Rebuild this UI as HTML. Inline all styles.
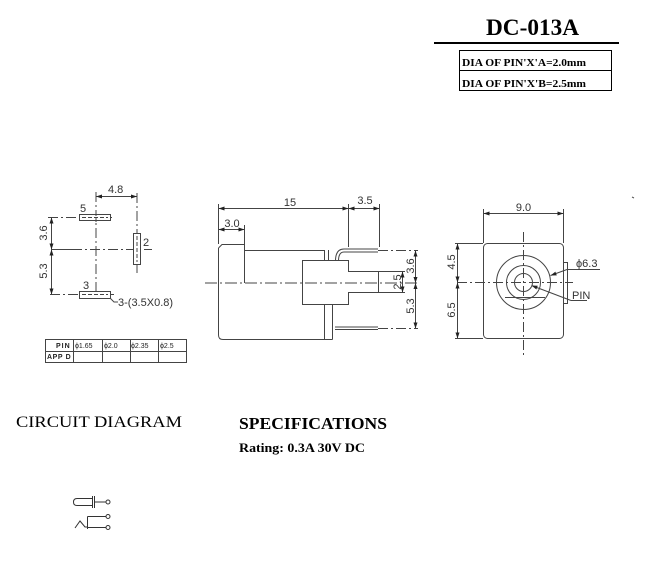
<!DOCTYPE html>
<html><head><meta charset="utf-8"><style>
html,body{margin:0;padding:0;background:#fff;}
svg{display:block;}
.d{font-family:"Liberation Sans",sans-serif;font-size:11px;fill:#333;}
.s{font-family:"Liberation Serif",serif;fill:#000;}
</style></head><body>
<svg width="649" height="578" viewBox="0 0 649 578" xmlns="http://www.w3.org/2000/svg">
<defs>
<marker id="a" viewBox="0 0 6 4" refX="6" refY="2" markerWidth="6" markerHeight="4" markerUnits="userSpaceOnUse" orient="auto-start-reverse">
<path d="M0,0 L6,2 L0,4 Z" fill="#222"/>
</marker>
</defs>

<!-- Title -->
<text class="s" x="486" y="35" font-size="23" font-weight="bold" textLength="93" lengthAdjust="spacingAndGlyphs">DC-013A</text>
<rect x="434" y="42" width="185" height="2" fill="#000"/>
<rect x="459.5" y="50.5" width="152" height="40" fill="none" stroke="#000" stroke-width="1"/>
<line x1="459" y1="70.5" x2="612" y2="70.5" stroke="#000"/>
<text class="s" x="462" y="66" font-size="11" font-weight="bold" textLength="124" lengthAdjust="spacingAndGlyphs">DIA OF PIN'X'A=2.0mm</text>
<text class="s" x="462" y="87" font-size="11" font-weight="bold" textLength="124" lengthAdjust="spacingAndGlyphs">DIA OF PIN'X'B=2.5mm</text>
<line x1="632" y1="197" x2="634" y2="198" stroke="#555"/>

<!-- LEFT: footprint -->
<g stroke="#444" stroke-width="1" fill="none">
 <line x1="96" y1="192" x2="96" y2="300" stroke-dasharray="10,3,2,3"/>
 <line x1="137" y1="193" x2="137" y2="273" stroke-dasharray="10,3,2,3"/>
 <line x1="48" y1="217.5" x2="115" y2="217.5" stroke-dasharray="10,3,2,3"/>
 <line x1="52" y1="249.5" x2="72" y2="249.5"/>
 <line x1="72" y1="249.5" x2="152" y2="249.5" stroke-dasharray="10,3,2,3"/>
 <line x1="50" y1="294.5" x2="115" y2="294.5" stroke-dasharray="10,3,2,3"/>
 <rect x="79.5" y="214.5" width="31" height="6" fill="#fff"/>
 <rect x="133.5" y="233.5" width="7" height="31" fill="#fff"/>
 <rect x="79.5" y="291.5" width="31" height="7" fill="#fff"/>
 <line x1="96" y1="212" x2="96" y2="224" stroke-dasharray="4,2"/>
 <line x1="82" y1="217.5" x2="108" y2="217.5" stroke-dasharray="4,2"/>
 <line x1="137" y1="236" x2="137" y2="262" stroke-dasharray="4,2"/>
 <line x1="82" y1="294.5" x2="108" y2="294.5" stroke-dasharray="4,2"/>
 <line x1="96" y1="196.5" x2="137" y2="196.5" marker-start="url(#a)" marker-end="url(#a)"/>
 <line x1="51.5" y1="217.5" x2="51.5" y2="249.5" marker-start="url(#a)" marker-end="url(#a)"/>
 <line x1="51.5" y1="249.5" x2="51.5" y2="294.5" marker-start="url(#a)" marker-end="url(#a)"/>
 <polyline points="110,298 114,302 118,302"/>
</g>
<text class="d" x="108" y="193">4.8</text>
<text class="d" x="80" y="212">5</text>
<text class="d" font-size="8" x="143" y="246">2</text>
<text class="d" font-size="8" x="83" y="289">3</text>
<text class="d" x="118" y="306">3-(3.5X0.8)</text>
<text class="d" transform="translate(47,233) rotate(-90)" text-anchor="middle">3.6</text>
<text class="d" transform="translate(47,271) rotate(-90)" text-anchor="middle">5.3</text>

<!-- Table -->
<g stroke="#444" stroke-width="1" fill="none">
 <rect x="45.5" y="339.5" width="141" height="23"/>
 <line x1="45" y1="351.5" x2="186" y2="351.5"/>
 <line x1="73.5" y1="339" x2="73.5" y2="362"/>
 <line x1="102.5" y1="339" x2="102.5" y2="362"/>
 <line x1="130.5" y1="339" x2="130.5" y2="362"/>
 <line x1="158.5" y1="339" x2="158.5" y2="362"/>
</g>
<g font-family="Liberation Sans,sans-serif" font-size="7" fill="#222">
 <text x="56" y="348" font-weight="bold" letter-spacing="1">PIN</text>
 <text x="47" y="359" font-weight="bold" letter-spacing="0.6">APP D</text>
 <text x="75" y="348">ϕ1.65</text>
 <text x="104" y="348">ϕ2.0</text>
 <text x="131" y="348">ϕ2.35</text>
 <text x="160" y="348">ϕ2.5</text>
</g>

<!-- MIDDLE: side view -->
<g stroke="#444" stroke-width="1" fill="none">
 <line x1="205" y1="283" x2="418" y2="283" stroke-dasharray="12,3,2,3"/>
 <path d="M218.5,248 L222,244.5 L244.5,244.5 L244.5,250.5 L324.5,250.5"/>
 <path d="M218.5,248 L218.5,335 Q218.5,339.5 223,339.5 L332.5,339.5"/>
 <line x1="244.5" y1="250" x2="244.5" y2="283"/>
 <line x1="324.5" y1="250" x2="324.5" y2="260.5"/>
 <line x1="324.5" y1="304.5" x2="324.5" y2="339.5"/>
 <line x1="328.5" y1="250" x2="328.5" y2="260.5"/>
 <line x1="332.5" y1="304.5" x2="332.5" y2="339.5"/>
 <path d="M302.5,260.5 L348.5,260.5 L348.5,271.5 L378.5,271.5 L378.5,292.5 L348.5,292.5 L348.5,304.5 L302.5,304.5 Z"/>
 <path d="M335.5,261 Q335.5,249 344,249 L378,249"/>
 <path d="M338.5,261 Q338.5,252 344,252 L378,252"/>
 <line x1="335" y1="327" x2="378" y2="327"/>
 <line x1="335" y1="329.5" x2="378" y2="329.5"/>
 <line x1="378" y1="250.5" x2="418" y2="250.5" stroke-dasharray="10,3,2,3"/>
 <line x1="378" y1="328.5" x2="418" y2="328.5" stroke-dasharray="10,3,2,3"/>
 <line x1="218.5" y1="204" x2="218.5" y2="244"/>
 <line x1="348.5" y1="204" x2="348.5" y2="247"/>
 <line x1="379.5" y1="204" x2="379.5" y2="247"/>
 <line x1="244.5" y1="225" x2="244.5" y2="244"/>
 <line x1="218.5" y1="208.5" x2="348.5" y2="208.5" marker-start="url(#a)" marker-end="url(#a)"/>
 <line x1="348.5" y1="208.5" x2="379.5" y2="208.5" marker-start="url(#a)" marker-end="url(#a)"/>
 <line x1="218.5" y1="229.5" x2="244.5" y2="229.5" marker-start="url(#a)" marker-end="url(#a)"/>
 <line x1="415.5" y1="250.5" x2="415.5" y2="283" marker-start="url(#a)" marker-end="url(#a)"/>
 <line x1="415.5" y1="283" x2="415.5" y2="328.5" marker-start="url(#a)" marker-end="url(#a)"/>
 <line x1="379" y1="271.5" x2="405" y2="271.5"/>
 <line x1="379" y1="292.5" x2="405" y2="292.5"/>
 <line x1="402.5" y1="271.5" x2="402.5" y2="292.5" marker-start="url(#a)" marker-end="url(#a)"/>
</g>
<text class="d" x="290" y="206" text-anchor="middle">15</text>
<text class="d" x="365" y="204" text-anchor="middle">3.5</text>
<text class="d" x="232" y="227" text-anchor="middle">3.0</text>
<text class="d" transform="translate(414,266) rotate(-90)" text-anchor="middle">3.6</text>
<text class="d" transform="translate(414,306) rotate(-90)" text-anchor="middle">5.3</text>
<text class="d" transform="translate(401,282) rotate(-90)" text-anchor="middle">2.5</text>

<!-- RIGHT: front view -->
<g stroke="#444" stroke-width="1" fill="none">
 <rect x="483.5" y="243.5" width="80" height="95" rx="4"/>
 <rect x="563.5" y="262.5" width="4" height="41"/>
 <line x1="523.5" y1="232" x2="523.5" y2="356" stroke-dasharray="10,3,2,3"/>
 <line x1="457" y1="282.5" x2="573" y2="282.5" stroke-dasharray="10,3,2,3"/>
 <circle cx="523.5" cy="282.5" r="27"/>
 <circle cx="523.5" cy="282.5" r="17"/>
 <circle cx="523.5" cy="282.5" r="9"/>
 <line x1="505" y1="297.5" x2="545" y2="297.5"/>
 <line x1="483.5" y1="209" x2="483.5" y2="243"/>
 <line x1="563.5" y1="209" x2="563.5" y2="243"/>
 <line x1="483.5" y1="213.5" x2="563.5" y2="213.5" marker-start="url(#a)" marker-end="url(#a)"/>
 <line x1="455" y1="243.5" x2="483" y2="243.5"/>
 <line x1="455" y1="338.5" x2="483" y2="338.5"/>
 <line x1="457.5" y1="243.5" x2="457.5" y2="282.5" marker-start="url(#a)" marker-end="url(#a)"/>
 <line x1="457.5" y1="282.5" x2="457.5" y2="338.5" marker-start="url(#a)" marker-end="url(#a)"/>
 <polyline points="600,269.5 567,269.5"/>
 <line x1="567" y1="269.5" x2="550.5" y2="275.5" marker-end="url(#a)"/>
 <polyline points="587,300.5 571,300.5"/>
 <line x1="571" y1="300.5" x2="531.5" y2="285.5" marker-end="url(#a)"/>
</g>
<text class="d" x="523.5" y="211" text-anchor="middle">9.0</text>
<text class="d" transform="translate(455,262) rotate(-90)" text-anchor="middle">4.5</text>
<text class="d" transform="translate(455,310) rotate(-90)" text-anchor="middle">6.5</text>
<text class="d" x="576" y="267">ϕ6.3</text>
<text class="d" x="572" y="299">PIN</text>

<!-- Bottom texts -->
<text class="s" x="16" y="427" font-size="16" textLength="166" lengthAdjust="spacingAndGlyphs">CIRCUIT DIAGRAM</text>
<text class="s" x="239" y="429" font-size="17" font-weight="bold" textLength="148" lengthAdjust="spacingAndGlyphs">SPECIFICATIONS</text>
<text class="s" x="239" y="452" font-size="13" font-weight="bold" textLength="126" lengthAdjust="spacingAndGlyphs">Rating: 0.3A 30V DC</text>

<!-- Circuit symbol -->
<g stroke="#333" stroke-width="1" fill="none">
 <path d="M92,498.5 L77,498.5 Q73.5,498.5 73.5,502 Q73.5,505.5 77,505.5 L92,505.5"/>
 <line x1="92.5" y1="496" x2="92.5" y2="508"/>
 <line x1="94.5" y1="496" x2="94.5" y2="508"/>
 <line x1="95" y1="502" x2="106" y2="502"/>
 <circle cx="108" cy="502" r="2"/>
 <line x1="87.5" y1="516.5" x2="106" y2="516.5"/>
 <circle cx="108" cy="516.5" r="2"/>
 <line x1="87.5" y1="516.5" x2="87.5" y2="529"/>
 <line x1="87.5" y1="527.5" x2="106" y2="527.5"/>
 <circle cx="108" cy="527.5" r="2"/>
 <polyline points="75,528 80,521 85,527 87.5,527"/>
</g>
</svg>
</body></html>
